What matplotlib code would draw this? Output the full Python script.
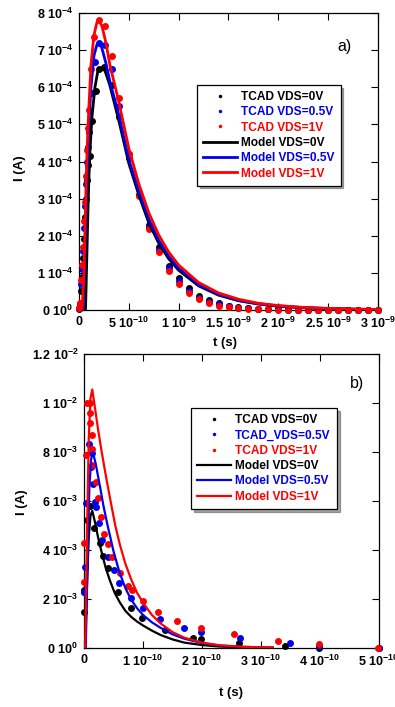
import matplotlib
matplotlib.use('Agg')
import matplotlib.pyplot as plt
import numpy as np

plt.rcParams['font.family'] = ['Liberation Sans', 'DejaVu Sans']
plt.rcParams['font.weight'] = 'bold'
plt.rcParams['mathtext.fontset'] = 'custom'
plt.rcParams['mathtext.rm'] = 'Liberation Sans:bold'
plt.rcParams['mathtext.bf'] = 'Liberation Sans:bold'
plt.rcParams['mathtext.it'] = 'Liberation Sans:bold'
plt.rcParams['mathtext.default'] = 'rm'

# ---------------- Panel a) : t in units of 1e-9 s, I in units of 1e-4 A
a_t_scale = 1e-9
a_i_scale = 1e-4

a_tcad0_t = [0.0, 0.01, 0.02, 0.03, 0.04, 0.05, 0.06, 0.07, 0.08, 0.09, 0.11, 0.13, 0.167, 0.20, 0.25, 0.33, 0.40, 0.50,
             0.6, 0.7, 0.8, 0.9, 1.0, 1.1, 1.2, 1.3, 1.4, 1.5, 1.6, 1.7, 1.8, 1.9, 2.0, 2.1, 2.2, 2.3, 2.4, 2.5, 2.6, 2.7, 2.8, 2.9, 3.0]
a_tcad0_i = [0.03, 0.1, 0.5, 0.9, 1.4, 1.9, 2.5, 3.0, 3.5, 3.9, 4.15, 5.1, 5.9, 6.5, 6.55, 6.05, 5.2, 4.1,
             3.1, 2.29, 1.69, 1.19, 0.85, 0.58, 0.38, 0.27, 0.18, 0.12, 0.08, 0.055, 0.04, 0.03, 0.02, 0.015, 0.01, 0.01, 0.008, 0.006, 0.005, 0.004, 0.003, 0.002, 0.002]
a_tcad05_t = [0.0, 0.01, 0.02, 0.03, 0.04, 0.05, 0.06, 0.07, 0.08, 0.09, 0.103, 0.13, 0.16, 0.20, 0.26, 0.33, 0.40, 0.50,
              0.6, 0.7, 0.8, 0.9, 1.0, 1.1, 1.2, 1.3, 1.4, 1.5, 1.6, 1.7, 1.8, 1.9, 2.0, 2.1, 2.2, 2.3, 2.4, 2.5, 2.6, 2.7, 2.8, 2.9, 3.0]
a_tcad05_i = [0.05, 0.15, 0.7, 1.1, 1.6, 2.2, 2.8, 3.4, 4.0, 4.4, 4.8, 5.85, 6.67, 7.2, 7.15, 6.5, 5.5, 4.2,
              3.1, 2.23, 1.62, 1.12, 0.77, 0.51, 0.33, 0.22, 0.15, 0.10, 0.065, 0.045, 0.03, 0.02, 0.015, 0.01, 0.008, 0.006, 0.005, 0.004, 0.003, 0.002, 0.002, 0.001, 0.001]
a_tcad1_t = [0.0, 0.01, 0.02, 0.03, 0.04, 0.05, 0.06, 0.07, 0.08, 0.09, 0.10, 0.125, 0.15, 0.20, 0.26, 0.33, 0.40, 0.50,
             0.6, 0.7, 0.8, 0.9, 1.0, 1.1, 1.2, 1.3, 1.4, 1.5, 1.6, 1.7, 1.8, 1.9, 2.0, 2.1, 2.2, 2.3, 2.4, 2.5, 2.6, 2.7, 2.8, 2.9, 3.0]
a_tcad1_i = [0.05, 0.2, 0.8, 1.2, 1.7, 2.4, 2.9, 3.6, 4.3, 4.9, 5.4, 6.5, 7.35, 7.8, 7.65, 6.85, 5.7, 4.2,
             3.08, 2.17, 1.56, 1.05, 0.69, 0.45, 0.29, 0.19, 0.12, 0.08, 0.05, 0.035, 0.02, 0.015, 0.01, 0.008, 0.006, 0.005, 0.004, 0.003, 0.002, 0.002, 0.001, 0.001, 0.001]

a_model0_t = [0.065, 0.07, 0.08, 0.09, 0.10, 0.11, 0.13, 0.16, 0.19, 0.22, 0.26, 0.31, 0.40, 0.50, 0.60, 0.70, 0.80, 0.90,
              1.00, 1.20, 1.40, 1.60, 1.80, 2.00, 2.25, 2.50, 2.75, 3.00]
a_model0_i = [0.0, 0.5, 1.6, 2.7, 3.6, 4.3, 5.2, 6.0, 6.45, 6.5, 6.45, 6.05, 5.1, 3.95, 3.1, 2.35, 1.8, 1.38,
              1.07, 0.65, 0.40, 0.25, 0.16, 0.10, 0.06, 0.035, 0.02, 0.012]
a_model05_t = [0.04, 0.06, 0.07, 0.08, 0.09, 0.10, 0.12, 0.15, 0.18, 0.20, 0.23, 0.27, 0.31, 0.40, 0.50, 0.60, 0.70, 0.80, 0.90,
               1.00, 1.20, 1.40, 1.60, 1.80, 2.00, 2.25, 2.50, 2.75, 3.00]
a_model05_i = [0.0, 1.6, 2.7, 3.6, 4.4, 5.0, 6.0, 6.85, 7.15, 7.2, 7.05, 6.65, 6.15, 5.25, 4.05, 3.2, 2.45, 1.88, 1.45,
               1.12, 0.68, 0.42, 0.26, 0.17, 0.11, 0.065, 0.04, 0.022, 0.013]
a_model1_t = [0.03, 0.05, 0.06, 0.07, 0.08, 0.09, 0.10, 0.12, 0.15, 0.18, 0.20, 0.23, 0.27, 0.31, 0.40, 0.50, 0.60, 0.70, 0.80, 0.90,
              1.00, 1.20, 1.40, 1.60, 1.80, 2.00, 2.25, 2.50, 2.75, 3.00]
a_model1_i = [0.0, 1.0, 2.2, 3.3, 4.2, 4.9, 5.5, 6.6, 7.4, 7.75, 7.8, 7.65, 7.2, 6.6, 5.6, 4.35, 3.4, 2.62, 2.02, 1.56,
              1.21, 0.74, 0.46, 0.29, 0.18, 0.12, 0.07, 0.045, 0.025, 0.015]

a_xticks = [0, 5e-10, 1e-9, 1.5e-9, 2e-9, 2.5e-9, 3e-9]
a_xticklabels = ['0', r'$5\ 10^{-10}$', r'$1\ 10^{-9}$', r'$1.5\ 10^{-9}$', r'$2\ 10^{-9}$', r'$2.5\ 10^{-9}$', r'$3\ 10^{-9}$']
a_yticks = [0, 1e-4, 2e-4, 3e-4, 4e-4, 5e-4, 6e-4, 7e-4, 8e-4]
a_yticklabels = [r'$0\ 10^{0}$', r'$1\ 10^{-4}$', r'$2\ 10^{-4}$', r'$3\ 10^{-4}$', r'$4\ 10^{-4}$',
                 r'$5\ 10^{-4}$', r'$6\ 10^{-4}$', r'$7\ 10^{-4}$', r'$8\ 10^{-4}$']
a_labels = ['TCAD VDS=0V', 'TCAD VDS=0.5V', 'TCAD VDS=1V', 'Model VDS=0V', 'Model VDS=0.5V', 'Model VDS=1V']

# ---------------- Panel b) : t in units of 1e-10 s, I in units of 1e-3 A
b_t_scale = 1e-10
b_i_scale = 1e-3

b_tcad0_t = [0.0, 0.005, 0.045, 0.10, 0.175, 0.27, 0.32, 0.40, 0.58, 0.80, 0.99, 1.37, 1.84, 1.99, 2.62, 3.41, 3.98, 5.0]
b_tcad0_i = [1.48, 2.37, 5.22, 5.81, 4.88, 4.27, 3.75, 3.25, 2.27, 1.62, 1.21, 0.73, 0.42, 0.35, 0.19, 0.08, 0.01, 0.0]
b_tcad05_t = [0.0, 0.005, 0.02, 0.03, 0.085, 0.12, 0.13, 0.15, 0.19, 0.20, 0.26, 0.30, 0.40, 0.50, 0.60, 0.79, 1.0, 1.29, 1.69, 1.99, 2.64, 3.49, 3.98, 5.0]
b_tcad05_i = [2.27, 2.3, 3.29, 5.9, 8.32, 7.37, 7.94, 6.69, 5.97, 5.77, 5.09, 4.41, 3.73, 3.2, 2.64, 2.03, 1.62, 1.18, 0.83, 0.64, 0.4, 0.19, 0.09, 0.0]
b_tcad1_t = [0.0, 0.005, 0.034, 0.056, 0.10, 0.11, 0.11, 0.13, 0.14, 0.14, 0.20, 0.24, 0.29, 0.34, 0.40, 0.47, 0.61, 0.75, 0.81, 1.0, 1.26, 1.58, 1.99, 2.54, 3.28, 3.98, 4.99]
b_tcad1_i = [2.7, 4.3, 7.87, 9.98, 9.58, 9.98, 9.17, 8.69, 8.11, 7.47, 6.79, 6.11, 5.36, 4.65, 4.24, 3.73, 3.07, 2.54, 2.37, 1.92, 1.48, 1.11, 0.83, 0.56, 0.3, 0.16, 0.02]

b_model0_t = [0.02, 0.05, 0.08, 0.11, 0.14, 0.18, 0.24, 0.30, 0.37, 0.44, 0.52, 0.61, 0.70, 0.80, 0.90, 1.00, 1.15, 1.30, 1.50, 1.70, 2.00, 2.30, 2.70, 3.20]
b_model0_i = [0.0, 2.5, 4.5, 5.4, 5.6, 5.2, 4.5, 3.9, 3.25, 2.75, 2.25, 1.85, 1.52, 1.27, 1.08, 0.92, 0.71, 0.53, 0.35, 0.22, 0.12, 0.06, 0.025, 0.01]
b_model05_t = [0.03, 0.06, 0.09, 0.12, 0.15, 0.20, 0.27, 0.33, 0.40, 0.50, 0.60, 0.70, 0.80, 0.90, 1.00, 1.15, 1.30, 1.50, 1.70, 2.00, 2.30, 2.70, 3.20]
b_model05_i = [0.0, 3.5, 6.5, 7.7, 8.0, 7.5, 6.6, 5.8, 5.0, 3.95, 3.1, 2.45, 1.97, 1.62, 1.35, 1.05, 0.82, 0.56, 0.38, 0.2, 0.1, 0.045, 0.015]
b_model1_t = [0.02, 0.05, 0.08, 0.11, 0.14, 0.18, 0.24, 0.30, 0.38, 0.45, 0.53, 0.61, 0.70, 0.80, 0.90, 1.00, 1.15, 1.30, 1.50, 1.70, 2.00, 2.30, 2.70, 3.20]
b_model1_i = [0.0, 4.5, 8.5, 10.2, 10.55, 9.9, 8.9, 8.0, 6.9, 6.0, 5.0, 4.2, 3.45, 2.8, 2.25, 1.85, 1.35, 1.0, 0.65, 0.42, 0.22, 0.11, 0.05, 0.02]

b_xticks = [0, 1e-10, 2e-10, 3e-10, 4e-10, 5e-10]
b_xticklabels = ['0', r'$1\ 10^{-10}$', r'$2\ 10^{-10}$', r'$3\ 10^{-10}$', r'$4\ 10^{-10}$', r'$5\ 10^{-10}$']
b_yticks = [0, 2e-3, 4e-3, 6e-3, 8e-3, 1e-2, 1.2e-2]
b_yticklabels = [r'$0\ 10^{0}$', r'$2\ 10^{-3}$', r'$4\ 10^{-3}$', r'$6\ 10^{-3}$', r'$8\ 10^{-3}$',
                 r'$1\ 10^{-2}$', r'$1.2\ 10^{-2}$']
b_labels = ['TCAD VDS=0V', 'TCAD_VDS=0.5V', 'TCAD VDS=1V', 'Model VDS=0V', 'Model VDS=0.5V', 'Model VDS=1V']

colors = ['#000000', '#0000ee', '#ff0000']

W, H = 395, 707
fig = plt.figure(figsize=(W / 100, H / 100), dpi=100)


def px_axes(l, t, r, b):
    return fig.add_axes([l / W, 1 - b / H, (r - l) / W, (b - t) / H])


def style_axes(ax, xticks, xlabels, yticks, ylabels, xlim, ylim):
    ax.set_xlim(*xlim)
    ax.set_ylim(*ylim)
    ax.set_xticks(xticks)
    ax.set_xticklabels(xlabels)
    ax.set_yticks(yticks)
    ax.set_yticklabels(ylabels)
    ax.tick_params(direction='in', top=True, right=True, length=5, width=0.8,
                   labelsize=9, pad=4)
    for s in ax.spines.values():
        s.set_linewidth(0.9)


def draw(ax, tcad, models, tsc, isc, msize, lw, labels, anchor):
    handles = []
    for (t, i), c in zip(tcad, colors):
        h, = ax.plot(np.array(t) * tsc, np.array(i) * isc, 'o', color=c, ms=msize,
                     mec='none', clip_on=False, zorder=3)
        handles.append(h)
    for (t, i), c in zip(models, colors):
        h, = ax.plot(np.array(t) * tsc, np.array(i) * isc, '-', color=c, lw=lw, zorder=4)
        handles.append(h)
    leg = ax.legend(handles, labels, loc='upper left', bbox_to_anchor=anchor,
                    fontsize=8.6, frameon=True, fancybox=False, shadow=True,
                    borderaxespad=0, handlelength=2.8, handletextpad=0.4,
                    labelspacing=0.28, markerscale=0.5, borderpad=0.5)
    leg.get_frame().set_edgecolor('black')
    leg.get_frame().set_linewidth(0.9)
    for txt, c in zip(leg.get_texts(), colors + colors):
        txt.set_color(c)
    return leg


# Panel a
axa = px_axes(79, 13, 378, 310)
style_axes(axa, a_xticks, a_xticklabels, a_yticks, a_yticklabels, (0, 3e-9), (0, 8e-4))
draw(axa, [(a_tcad0_t, a_tcad0_i), (a_tcad05_t, a_tcad05_i), (a_tcad1_t, a_tcad1_i)],
     [(a_model0_t, a_model0_i), (a_model05_t, a_model05_i), (a_model1_t, a_model1_i)],
     a_t_scale, a_i_scale, 5.0, 2.0, a_labels, (0.395, 0.758))

# Panel b
axb = px_axes(84, 354, 379, 648)
style_axes(axb, b_xticks, b_xticklabels, b_yticks, b_yticklabels, (0, 5e-10), (0, 1.2e-2))
draw(axb, [(b_tcad0_t, b_tcad0_i), (b_tcad05_t, b_tcad05_i), (b_tcad1_t, b_tcad1_i)],
     [(b_model0_t, b_model0_i), (b_model05_t, b_model05_i), (b_model1_t, b_model1_i)],
     b_t_scale, b_i_scale, 5.0, 1.6, b_labels, (0.363, 0.816))

# Axis labels and panel tags
fig.text(225 / W, 1 - 343 / H, 't (s)', ha='center', va='center', fontsize=9.5, fontweight='bold')
fig.text(231 / W, 1 - 693 / H, 't (s)', ha='center', va='center', fontsize=9.5, fontweight='bold')
fig.text(20 / W, 1 - 168 / H, 'I (A)', ha='center', va='center', rotation=90, fontsize=9.5, fontweight='bold')
fig.text(22 / W, 1 - 502 / H, 'I (A)', ha='center', va='center', rotation=90, fontsize=9.5, fontweight='bold')
fig.text(344 / W, 1 - 47 / H, 'a)', ha='center', va='center', fontsize=11.5, fontweight='normal')
fig.text(357 / W, 1 - 383 / H, 'b)', ha='center', va='center', fontsize=11.5, fontweight='normal')

fig.savefig('out.png', dpi=100)
